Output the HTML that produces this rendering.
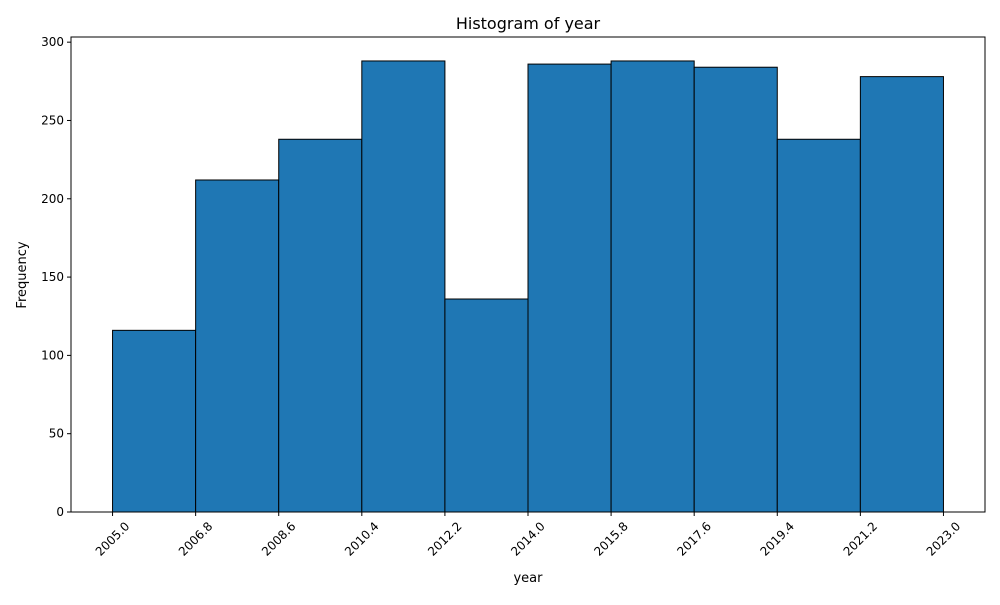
<!DOCTYPE html>
<html><head><meta charset="utf-8"><style>
body{margin:0;background:#fff;font-family:"Liberation Sans","DejaVu Sans",sans-serif}
svg text{font-family:"DejaVu Sans","Liberation Sans",sans-serif}
</style></head><body>
<svg id="chart" width="1000" height="600" xmlns="http://www.w3.org/2000/svg">
<rect width="1000" height="600" fill="#fff"/>
<text x="528" y="29" text-anchor="middle" font-size="16">Histogram of year</text>
<g id="bars"></g>
<g id="axes"></g>
<text x="528" y="582" text-anchor="middle" font-size="13">year</text>
<text transform="translate(26,275) rotate(-90)" text-anchor="middle" font-size="13">Frequency</text>
</svg>
<script>
const binEdges=[2005.0,2006.8,2008.6,2010.4,2012.2,2014.0,2015.8,2017.6,2019.4,2021.2,2023.0];
const counts=[116,212,238,288,136,286,288,284,238,278];
const yTicks=[0,50,100,150,200,250,300];
const L=71,R=985,T=37,B=512;
const xMin=2004.1,xMax=2023.9,yMax=303.3;
const sx=v=>L+(v-xMin)/(xMax-xMin)*(R-L);
const sy=v=>B-v/yMax*(B-T);
const NS="http://www.w3.org/2000/svg";
const bars=document.getElementById('bars'),axes=document.getElementById('axes');
function mk(tag,attrs,parent){const e=document.createElementNS(NS,tag);for(const k in attrs)e.setAttribute(k,attrs[k]);parent.appendChild(e);return e;}
counts.forEach((c,i)=>{
 const r=mk('rect',{x:sx(binEdges[i]),y:sy(c),width:sx(binEdges[i+1])-sx(binEdges[i]),height:B-sy(c),fill:'#1f77b4',stroke:'#000','stroke-width':1},bars);
 
 
});
const frame=mk('rect',{x:L,y:T,width:R-L,height:B-T,fill:'none',stroke:'#000','stroke-width':1},axes);


yTicks.forEach(t=>{
 const y=sy(t);
 mk('line',{x1:L-4,x2:L,y1:y,y2:y,stroke:'#000'},axes);
 const tx=mk('text',{x:L-7,y:y+4,'text-anchor':'end','font-size':12},axes);
 tx.textContent=t;
 
 
});
binEdges.forEach(t=>{
 const x=sx(t);
 mk('line',{x1:x,x2:x,y1:B,y2:B+4,stroke:'#000'},axes);
 const tx=mk('text',{transform:`translate(${x},${B+27}) rotate(-45)`,'text-anchor':'middle','dominant-baseline':'central','font-size':12},axes);
 tx.textContent=t.toFixed(1);
 
 
});
</script>
</body></html>
